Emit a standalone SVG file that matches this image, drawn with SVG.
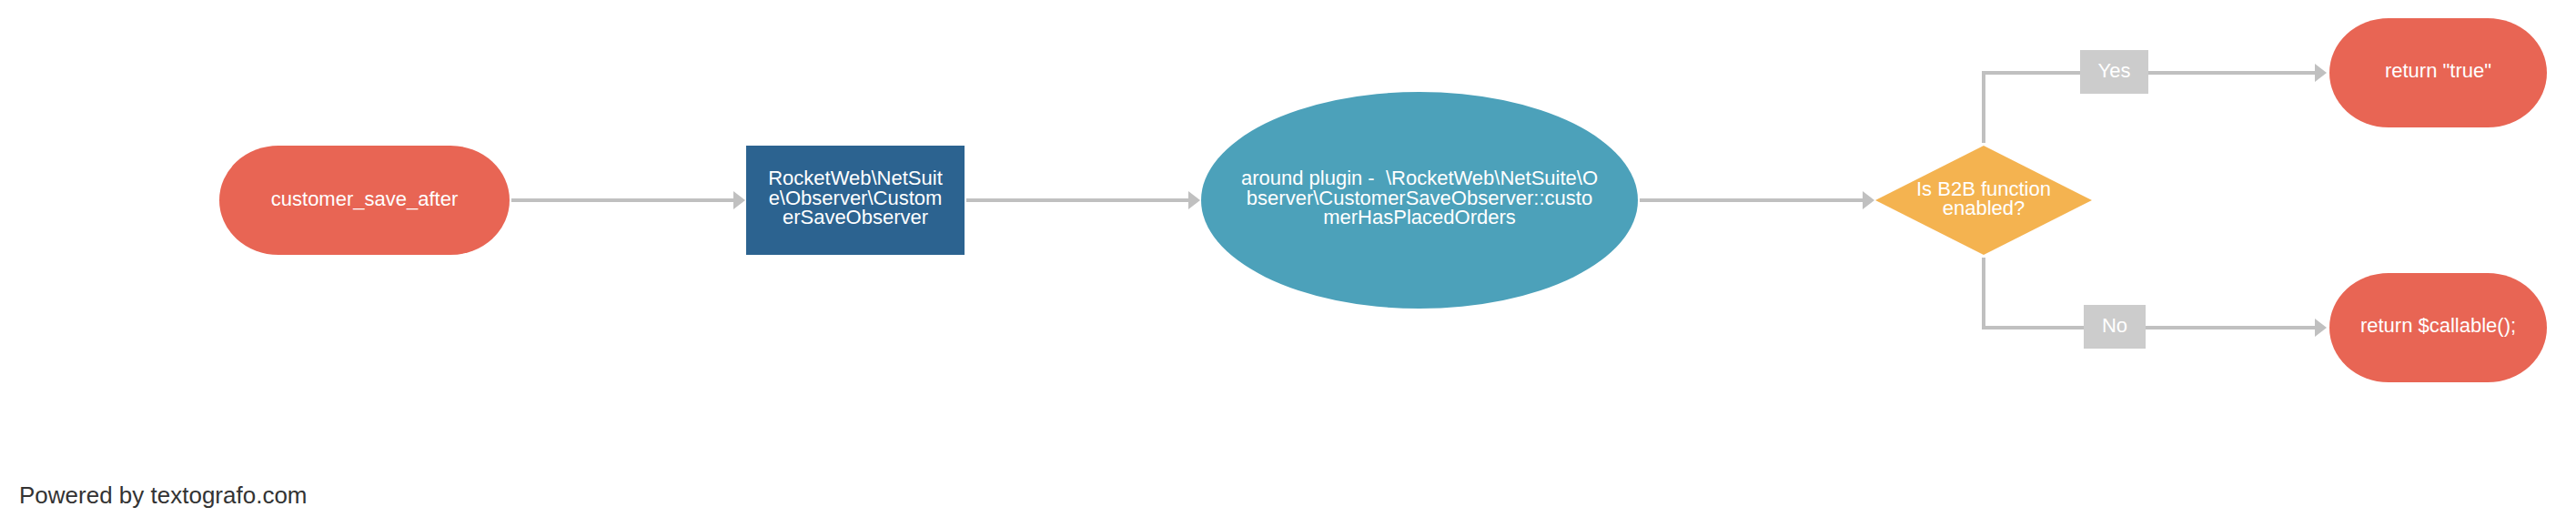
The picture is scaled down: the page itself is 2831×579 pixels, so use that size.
<svg xmlns="http://www.w3.org/2000/svg" width="2831" height="579" viewBox="0 0 2831 579">
<defs>
<style>
.t{font-family:"Liberation Sans",Arial,Helvetica,sans-serif;font-size:22px;fill:#ffffff;text-anchor:middle}
.red{fill:#e86554}
.conn{fill:none;stroke:#c0c0c0;stroke-width:4}
.lbl{fill:#cccccc}
.foot{font-family:"Liberation Sans",Arial,Helvetica,sans-serif;font-size:26px;fill:#333333}
</style>
<marker id="ah" markerUnits="userSpaceOnUse" markerWidth="14" markerHeight="20" refX="0" refY="10" orient="auto" viewBox="0 0 14 20">
<path d="M0,0 L13,10 L0,20 Z" fill="#c0c0c0"/>
</marker>
</defs>
<rect width="2831" height="579" fill="#ffffff"/>
<g id="connectors">
<path class="conn" d="M562,220 H806" marker-end="url(#ah)"/>
<path class="conn" d="M1062,220 H1306" marker-end="url(#ah)"/>
<path class="conn" d="M1802,220 H2047" marker-end="url(#ah)"/>
<path class="conn" d="M2180,157 V80 H2544" marker-end="url(#ah)"/>
<path class="conn" d="M2180,283 V360 H2544" marker-end="url(#ah)"/>
<g id="label-yes">
<rect class="lbl" x="2286" y="55" width="75" height="48"/>
<text class="t" x="2323.5" y="85">Yes</text>
</g>
<g id="label-no">
<rect class="lbl" x="2290" y="335" width="68" height="48"/>
<text class="t" x="2324" y="365">No</text>
</g>
</g>
<g id="node-start">
<rect class="red" x="241" y="160" width="319" height="120" rx="65" ry="60"/>
<text class="t" x="400.5" y="226">customer_save_after</text>
</g>
<g id="node-observer">
<rect x="820" y="160" width="240" height="120" fill="#2c6390"/>
<text class="t" x="940" y="203">RocketWeb\NetSuit</text>
<text class="t" x="940" y="224.5">e\Observer\Custom</text>
<text class="t" x="940" y="246">erSaveObserver</text>
</g>
<g id="node-plugin">
<ellipse cx="1560" cy="220" rx="240" ry="119" fill="#4ca1ba"/>
<text class="t" x="1560" y="203" xml:space="preserve">around plugin -  \RocketWeb\NetSuite\O</text>
<text class="t" x="1560" y="224.5">bserver\CustomerSaveObserver::custo</text>
<text class="t" x="1560" y="246">merHasPlacedOrders</text>
</g>
<g id="node-decision">
<polygon points="2180,160 2299,220 2180,280 2061,220" fill="#f4b350"/>
<text class="t" x="2180" y="214.5">Is B2B function</text>
<text class="t" x="2180" y="236">enabled?</text>
</g>
<g id="node-true">
<rect class="red" x="2560" y="20" width="239" height="120" rx="65" ry="60"/>
<text class="t" x="2679.5" y="85">return "true"</text>
</g>
<g id="node-callable">
<rect class="red" x="2560" y="300" width="239" height="120" rx="65" ry="60"/>
<text class="t" x="2679.5" y="365">return $callable();</text>
</g>
<text class="foot" x="21" y="553">Powered by textografo.com</text>
</svg>
